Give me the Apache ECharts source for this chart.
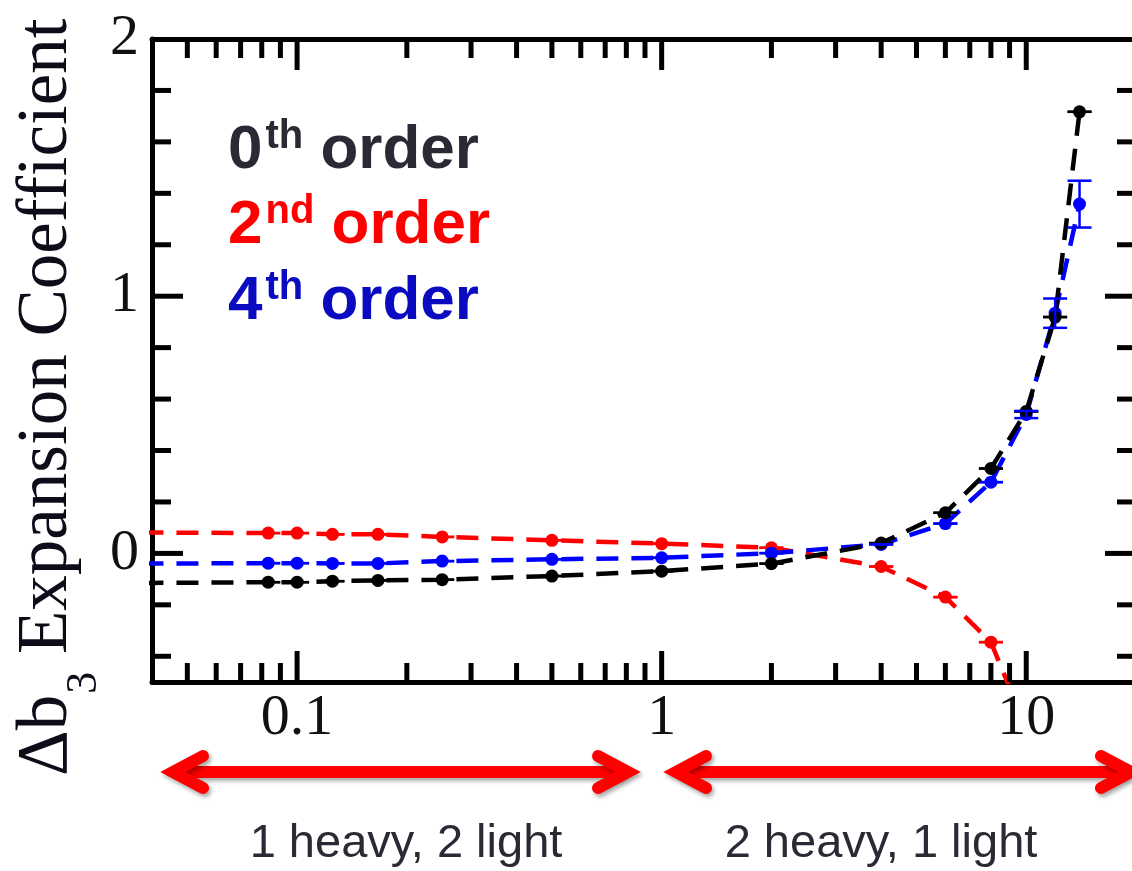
<!DOCTYPE html>
<html>
<head>
<meta charset="utf-8">
<script src="https://cdn.jsdelivr.net/npm/echarts@6/dist/echarts.min.js"></script>
<style>
  html, body { margin: 0; padding: 0; background: #ffffff; overflow: hidden; }
  #chart { width: 1132px; height: 871px; }
</style>
</head>
<body>
<div id="chart"></div>
<script>
// Mass ratios sampled by the calculation (first entry sits just left of the
// plotted range, so only its line segment into the frame is visible).
const massRatios = [0.03, 1/12, 1/10, 1/8, 1/6, 1/4, 1/2, 1, 2, 4, 6, 8, 10, 12, 14];

// Δb3 expansion coefficient, by order of the expansion
const order0 = [-0.116, -0.112, -0.112, -0.108, -0.105, -0.102, -0.088, -0.069, -0.040, 0.040, 0.158, 0.330, 0.552, 0.919, 1.717];
const order2 = [0.082, 0.079, 0.079, 0.074, 0.074, 0.064, 0.051, 0.038, 0.022, -0.051, -0.170, -0.345, -0.680, null, null];
const order4 = [-0.040, -0.038, -0.038, -0.039, -0.039, -0.030, -0.023, -0.017, 0.001, 0.035, 0.116, 0.277, 0.540, 0.934, 1.358];

// Statistical uncertainties
const order0Err = [0, 0, 0, 0, 0, 0, 0, 0, 0, 0, 0, 0, 0, 0, 0];
const order2Err = [0, 0, 0, 0, 0, 0, 0, 0, 0, 0, 0, 0, 0, 0, 0];
const order4Err = [0, 0, 0, 0, 0, 0, 0, 0, 0, 0, 0, 0, 0.014, 0.057, 0.091];

// Axis ticks and labels
const xMajorTicks = [0.1, 1, 10];
const xMinorTicks = [0.05, 0.06, 0.07, 0.08, 0.09, 0.2, 0.3, 0.4, 0.5, 0.6, 0.7, 0.8, 0.9, 2, 3, 4, 5, 6, 7, 8, 9];
const xTickLabels = ['0.1', '1', '10'];
const yMajorTicks = [0, 1];
const yMinorTicks = [-0.4, -0.2, 0.2, 0.4, 0.6, 0.8, 1.2, 1.4, 1.6, 1.8];
const yTickLabels = ['0', '1', '2'];

// Legend entries and regime annotations
const legendOrders = ['0', '2', '4'];
const legendSuffixes = ['th', 'nd', 'th'];
const regimeLabels = ['1 heavy, 2 light', '2 heavy, 1 light'];

const X_MIN = 0.04, X_MAX = 20, Y_MIN = -0.5, Y_MAX = 2;
const SERIF = '"Liberation Serif", "Times New Roman", serif';
const SANS = '"Liberation Sans", Arial, sans-serif';
const COLORS = { order0: '#000000', order2: '#ff0000', order4: '#0000ff' };

const chart = echarts.init(document.getElementById('chart'), null, { renderer: 'canvas' });

const measureCtx = document.createElement('canvas').getContext('2d');
function textWidth(str, weight, size, family) {
  measureCtx.font = weight + ' ' + size + 'px ' + family;
  return measureCtx.measureText(str).width;
}

function lineSeries(name, values, color, z) {
  const data = [];
  massRatios.forEach((x, i) => {
    if (values[i] == null) return;
    if (x < X_MIN) data.push({ value: [x, values[i]], symbol: 'none' });
    else data.push([x, values[i]]);
  });
  return {
    type: 'line', name, data, z,
    clip: true,
    symbol: 'circle', symbolSize: 13,
    itemStyle: { color },
    lineStyle: { color, width: 4.5, type: [22, 13] },
    silent: true,
    animation: false
  };
}

function errorBarSeries(name, values, errors, color, z) {
  const data = [];
  massRatios.forEach((x, i) => {
    if (values[i] == null || x < X_MIN) return;
    data.push([x, values[i], errors[i]]);
  });
  return {
    type: 'custom', name, data, z,
    clip: true, silent: true, animation: false,
    encode: { x: 0, y: 1 },
    renderItem(params, api) {
      const x = api.value(0), y = api.value(1), e = api.value(2);
      const hi = api.coord([x, y + e]);
      const lo = api.coord([x, y - e]);
      const hw = 12;
      const st = { stroke: color, lineWidth: 2.5 };
      return {
        type: 'group',
        children: [
          { type: 'line', shape: { x1: hi[0], y1: hi[1], x2: lo[0], y2: lo[1] }, style: st },
          { type: 'line', shape: { x1: hi[0] - hw, y1: hi[1], x2: hi[0] + hw, y2: hi[1] }, style: st },
          { type: 'line', shape: { x1: lo[0] - hw, y1: lo[1], x2: lo[0] + hw, y2: lo[1] }, style: st }
        ]
      };
    }
  };
}

// Inward-pointing frame ticks: [x, y, dirX, dirY, length]
const MAJOR_LEN = 31, MINOR_LEN = 19;
const frameTicks = [];
xMajorTicks.forEach(v => { frameTicks.push([v, Y_MIN, 0, -1, MAJOR_LEN]); frameTicks.push([v, Y_MAX, 0, 1, MAJOR_LEN]); });
xMinorTicks.forEach(v => { frameTicks.push([v, Y_MIN, 0, -1, MINOR_LEN]); frameTicks.push([v, Y_MAX, 0, 1, MINOR_LEN]); });
yMajorTicks.forEach(v => { frameTicks.push([X_MIN, v, 1, 0, MAJOR_LEN]); frameTicks.push([X_MAX, v, -1, 0, MAJOR_LEN]); });
yMinorTicks.forEach(v => { frameTicks.push([X_MIN, v, 1, 0, MINOR_LEN]); frameTicks.push([X_MAX, v, -1, 0, MINOR_LEN]); });

const tickSeries = {
  type: 'custom', data: frameTicks, z: 10,
  clip: false, silent: true, animation: false,
  encode: { x: 0, y: 1 },
  renderItem(params, api) {
    const p = api.coord([api.value(0), api.value(1)]);
    const len = api.value(4);
    return {
      type: 'line',
      shape: { x1: p[0], y1: p[1], x2: p[0] + api.value(2) * len, y2: p[1] + api.value(3) * len },
      style: { stroke: '#000', lineWidth: 5 }
    };
  }
};

function sameValue(a, b) { return Math.abs(Math.log10(a) - Math.log10(b)) < 1e-6; }

// ---------- annotations (legend, axis title, regime arrows) ----------
const graphics = [];

// legend block
const LEG_X = 228, LEG_BASE = [172, 247, 323];
const LEG_SIZE = 62, SUP_SIZE = 40;
const legendColors = ['#2a2a35', '#ff0000', '#0a0ac0'];
legendOrders.forEach((d, i) => {
  const base = LEG_BASE[i];
  const wd = textWidth(d, 'bold', LEG_SIZE, SANS);
  const ws = textWidth(legendSuffixes[i], 'bold', SUP_SIZE, SANS);
  const common = { fill: legendColors[i], fontFamily: SANS, fontWeight: 'bold', align: 'left', verticalAlign: 'middle' };
  graphics.push({ type: 'text', x: LEG_X, y: base - 0.3465 * LEG_SIZE,
    style: Object.assign({ text: d, fontSize: LEG_SIZE }, common) });
  graphics.push({ type: 'text', x: LEG_X + wd + 3, y: base - 21 - 0.3465 * SUP_SIZE,
    style: Object.assign({ text: legendSuffixes[i], fontSize: SUP_SIZE }, common) });
  graphics.push({ type: 'text', x: LEG_X + wd + 3 + ws, y: base - 0.3465 * LEG_SIZE,
    style: Object.assign({ text: ' order', fontSize: LEG_SIZE }, common) });
});

// rotated y-axis title: Δb₃ Expansion Coefficient
const TITLE_SIZE = 71, SUB_SIZE = 44;
const TITLE_BASE_X = 71, SUB_BASE_X = 99;
let ty = 776;
const titleColor = '#0d0d1a';
const wDb = textWidth('Δb', 'normal', TITLE_SIZE, SERIF);
graphics.push({ type: 'text', x: TITLE_BASE_X - 0.3375 * TITLE_SIZE, y: ty, rotation: Math.PI / 2,
  style: { text: 'Δb', fontSize: TITLE_SIZE, fontFamily: SERIF, fill: titleColor, align: 'left', verticalAlign: 'middle' } });
ty -= wDb + 1;
const w3 = textWidth('3', 'normal', SUB_SIZE, SERIF);
graphics.push({ type: 'text', x: SUB_BASE_X - 0.3375 * SUB_SIZE, y: ty, rotation: Math.PI / 2,
  style: { text: '3', fontSize: SUB_SIZE, fontFamily: SERIF, fill: titleColor, align: 'left', verticalAlign: 'middle' } });
ty -= w3;
graphics.push({ type: 'text', x: TITLE_BASE_X - 0.3375 * TITLE_SIZE, y: ty, rotation: Math.PI / 2,
  style: { text: ' Expansion Coefficient', fontSize: TITLE_SIZE, fontFamily: SERIF, fill: titleColor, align: 'left', verticalAlign: 'middle' } });

// regime arrows (outer tip to outer tip)
const ARROW_Y = 772, TIP_IN = 13, ARM_DX = 30, ARM_DY = 16;
const arrowStyle = {
  stroke: '#ff0000', fill: null, lineWidth: 12, lineJoin: 'miter', lineCap: 'round',
  shadowColor: 'rgba(0,0,0,0.35)', shadowBlur: 4, shadowOffsetX: 2, shadowOffsetY: 3
};
function doubleArrow(x0, x1) {
  const a = x0 + TIP_IN, b = x1 - TIP_IN;
  return {
    type: 'group',
    children: [
      { type: 'line', shape: { x1: a + 6, y1: ARROW_Y, x2: b - 6, y2: ARROW_Y }, style: Object.assign({}, arrowStyle, { lineCap: 'butt' }) },
      { type: 'polyline', shape: { points: [[a + ARM_DX, ARROW_Y - ARM_DY], [a, ARROW_Y], [a + ARM_DX, ARROW_Y + ARM_DY]] }, style: arrowStyle },
      { type: 'polyline', shape: { points: [[b - ARM_DX, ARROW_Y - ARM_DY], [b, ARROW_Y], [b - ARM_DX, ARROW_Y + ARM_DY]] }, style: arrowStyle }
    ]
  };
}
graphics.push(doubleArrow(160, 641));
graphics.push(doubleArrow(663, 1144));

const REGIME_SIZE = 47, REGIME_BASE = 860;
[406, 881].forEach((cx, i) => {
  graphics.push({ type: 'text', x: cx, y: REGIME_BASE - 0.3465 * REGIME_SIZE,
    style: { text: regimeLabels[i], fontSize: REGIME_SIZE, fontFamily: SANS, fill: '#2a2a35', align: 'center', verticalAlign: 'middle' } });
});

const option = {
  backgroundColor: '#ffffff',
  animation: false,
  grid: { left: 152, right: -4, top: 39, bottom: 189, outerBoundsMode: 'none', containLabel: false },
  xAxis: [
    {
      type: 'log', logBase: 10, min: X_MIN, max: X_MAX, position: 'bottom',
      axisLine: { show: true, onZero: false, lineStyle: { color: '#000', width: 5 } },
      axisTick: { show: false },
      minorTick: { show: false },
      splitLine: { show: false },
      axisLabel: {
        show: true, margin: 8, color: '#111', fontFamily: SERIF, fontSize: 58,
        showMinLabel: false, showMaxLabel: false,
        formatter: v => {
          const k = xMajorTicks.findIndex(t => sameValue(t, v));
          return k >= 0 ? xTickLabels[k] : '';
        }
      }
    },
    {
      type: 'log', logBase: 10, min: X_MIN, max: X_MAX, position: 'top',
      axisLine: { show: true, onZero: false, lineStyle: { color: '#000', width: 5 } },
      axisTick: { show: false }, axisLabel: { show: false }, splitLine: { show: false }
    }
  ],
  yAxis: [
    {
      type: 'value', min: Y_MIN, max: Y_MAX, interval: 0.5, position: 'left',
      axisLine: { show: true, onZero: false, lineStyle: { color: '#000', width: 5 } },
      axisTick: { show: false },
      splitLine: { show: false },
      axisLabel: {
        show: true, margin: 13, color: '#111', fontFamily: SERIF, fontSize: 58,
        showMinLabel: false,
        formatter: v => {
          const k = Math.round(v);
          if (Math.abs(v - k) > 1e-6) return '';
          return k >= 0 && k < yTickLabels.length ? yTickLabels[k] : '';
        }
      }
    }
  ],
  series: [
    lineSeries('2nd order', order2, COLORS.order2, 2),
    errorBarSeries('2nd order err', order2, order2Err, COLORS.order2, 2),
    lineSeries('4th order', order4, COLORS.order4, 3),
    lineSeries('0th order', order0, COLORS.order0, 4),
    errorBarSeries('0th order err', order0, order0Err, COLORS.order0, 4),
    errorBarSeries('4th order err', order4, order4Err, COLORS.order4, 5),
    tickSeries
  ],
  graphic: { elements: graphics }
};

chart.setOption(option);
</script>
</body>
</html>
